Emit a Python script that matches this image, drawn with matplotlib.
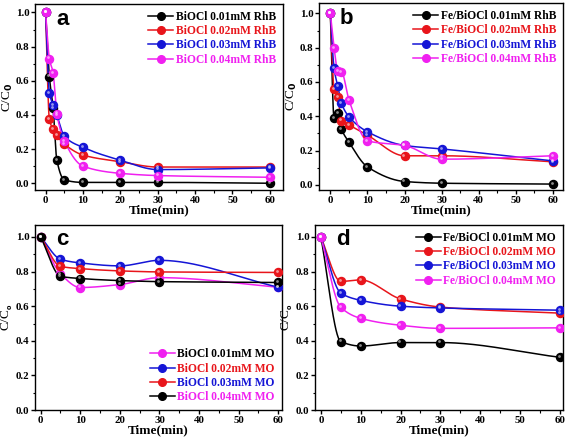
import numpy as np
import matplotlib
matplotlib.use("Agg")
import matplotlib.pyplot as plt
from matplotlib.lines import Line2D
from matplotlib.ticker import MultipleLocator, FormatStrFormatter
from matplotlib.transforms import offset_copy

plt.rcParams.update({
    "font.family": "Liberation Serif",
    "font.weight": "bold",
    "font.size": 9,
    "axes.linewidth": 1.0,
    "xtick.direction": "out",
    "ytick.direction": "out",
})

COLORS = ["black", "#e8151b", "#1515d6", "#f020f0"]

# ---- panel a : BiOCl, RhB ----
a_t = [0, 1, 2, 3, 5, 10, 20, 30, 60]
a_k = [1.0, 0.625, 0.44, 0.136, 0.02, 0.005, 0.005, 0.005, 0.0]
a_r = [1.0, 0.375, 0.317, 0.28, 0.23, 0.165, 0.126, 0.095, 0.095]
a_b = [1.0, 0.53, 0.46, 0.40, 0.276, 0.21, 0.135, 0.08, 0.09]
a_m = [1.0, 0.73, 0.647, 0.408, 0.249, 0.10, 0.058, 0.045, 0.035]
a_labels = ["BiOCl 0.01mM RhB", "BiOCl 0.02mM RhB",
            "BiOCl 0.03mM RhB", "BiOCl 0.04mM RhB"]

# ---- panel b : Fe/BiOCl, RhB ----
b_t = [0, 1, 2, 3, 5, 10, 20, 30, 60]
b_k = [1.0, 0.39, 0.418, 0.326, 0.25, 0.105, 0.02, 0.01, 0.005]
b_r = [1.0, 0.559, 0.51, 0.375, 0.35, 0.29, 0.17, 0.17, 0.135]
b_b = [1.0, 0.68, 0.575, 0.476, 0.398, 0.31, 0.23, 0.21, 0.14]
b_m = [1.0, 0.80, 0.663, 0.66, 0.496, 0.257, 0.23, 0.15, 0.17]
b_labels = ["Fe/BiOCl 0.01mM RhB", "Fe/BiOCl 0.02mM RhB",
            "Fe/BiOCl 0.03mM RhB", "Fe/BiOCl 0.04mM RhB"]

# ---- panel c : BiOCl, MO ----
c_t = [0, 5, 10, 20, 30, 60]
c_m = [1.0, 0.788, 0.708, 0.725, 0.765, 0.71]
c_b = [1.0, 0.871, 0.85, 0.833, 0.865, 0.71]
c_r = [1.0, 0.83, 0.817, 0.804, 0.798, 0.795]
c_k = [1.0, 0.773, 0.76, 0.748, 0.742, 0.737]
c_labels = ["BiOCl 0.01mM MO", "BiOCl 0.02mM MO",
            "BiOCl 0.03mM MO", "BiOCl 0.04mM MO"]

# ---- panel d : Fe/BiOCl, MO ----
d_t = [0, 5, 10, 20, 30, 60]
d_k = [1.0, 0.396, 0.37, 0.39, 0.39, 0.305]
d_r = [1.0, 0.743, 0.752, 0.642, 0.595, 0.56]
d_b = [1.0, 0.676, 0.634, 0.60, 0.59, 0.577]
d_m = [1.0, 0.594, 0.53, 0.49, 0.472, 0.475]
d_labels = ["Fe/BiOCl 0.01mM MO", "Fe/BiOCl 0.02mM MO",
            "Fe/BiOCl 0.03mM MO", "Fe/BiOCl 0.04mM MO"]


def pchip(x, y, xs):
    x = np.asarray(x, float)
    y = np.asarray(y, float)
    h = np.diff(x)
    d = np.diff(y) / h
    m = np.zeros_like(y)
    m[0], m[-1] = d[0], d[-1]
    for k in range(1, len(x) - 1):
        if d[k - 1] * d[k] > 0:
            w1 = 2 * h[k] + h[k - 1]
            w2 = h[k] + 2 * h[k - 1]
            m[k] = (w1 + w2) / (w1 / d[k - 1] + w2 / d[k])
    idx = np.clip(np.searchsorted(x, xs) - 1, 0, len(x) - 2)
    hk = h[idx]
    s = (xs - x[idx]) / hk
    h00 = 2 * s**3 - 3 * s**2 + 1
    h10 = s**3 - 2 * s**2 + s
    h01 = -2 * s**3 + 3 * s**2
    h11 = s**3 - s**2
    return (h00 * y[idx] + h10 * hk * m[idx] + h01 * y[idx + 1]
            + h11 * hk * m[idx + 1])


def series(ax, t, y, color):
    xs = np.linspace(t[0], t[-1], 600)
    ax.plot(xs, pchip(t, y, xs), color=color, lw=1.1, zorder=2)
    ax.plot(t, y, "o", ms=5.8, mfc=color, mec=color, zorder=3)
    hl = offset_copy(ax.transData, fig=ax.figure, x=-0.8, y=0.8, units="points")
    ax.plot(t, y, "o", ms=2.0, mfc="white", mec="none", alpha=0.55,
            transform=hl, zorder=4)


def setup(ax, letter, xlim, ylim, sub):
    ax.set_xlim(*xlim)
    ax.set_ylim(*ylim)
    ax.xaxis.set_major_locator(MultipleLocator(10))
    ax.xaxis.set_minor_locator(MultipleLocator(5))
    ax.yaxis.set_major_locator(MultipleLocator(0.2))
    ax.yaxis.set_minor_locator(MultipleLocator(0.1))
    ax.yaxis.set_major_formatter(FormatStrFormatter("%.1f"))
    ax.tick_params(which="major", labelsize=7.8, length=3, width=1, pad=1.2)
    ax.tick_params(which="minor", length=1.8, width=0.8)
    ax.set_xlabel("Time(min)", fontsize=9.5, fontweight="bold", labelpad=-0.5)
    if sub:
        ax.set_ylabel(r"C/C$_\mathbf{0}$", fontsize=9.5)
    else:
        ax.set_ylabel(r"C/C$_{_\mathbf{0}}$", fontsize=9.5)
    ax.yaxis.set_label_coords(-0.082, 0.5)
    ax.text(0.085, 0.975, letter, transform=ax.transAxes, ha="left", va="top",
            fontsize=16, fontweight="bold", family="Liberation Sans")


def legend(ax, labels, hcolors, tcolors, loc):
    handles = [Line2D([0], [0], color=c, lw=1.1, marker="o", ms=5.5,
                      mfc=c, mec=c) for c in hcolors]
    leg = ax.legend(handles, labels, loc=loc, frameon=False, fontsize=8.3,
                    handlelength=2.2, handletextpad=0.2, labelspacing=0.2,
                    borderaxespad=0.2)
    for txt, c in zip(leg.get_texts(), tcolors):
        txt.set_color(c)


fig = plt.figure(figsize=(5.67, 4.40), dpi=100)
ax_a = fig.add_axes([0.062, 0.568, 0.437, 0.423])
ax_b = fig.add_axes([0.563, 0.568, 0.430, 0.425])
ax_c = fig.add_axes([0.062, 0.068, 0.435, 0.421])
ax_d = fig.add_axes([0.556, 0.068, 0.437, 0.421])

for y, c in zip([a_k, a_r, a_b, a_m], COLORS):
    series(ax_a, a_t, y, c)
setup(ax_a, "a", (-2.8, 63.5), (-0.04, 1.05), True)
legend(ax_a, a_labels, COLORS, COLORS, "upper right")

for y, c in zip([b_k, b_r, b_b, b_m], COLORS):
    series(ax_b, b_t, y, c)
setup(ax_b, "b", (-3.0, 62.7), (-0.03, 1.06), True)
legend(ax_b, b_labels, COLORS, COLORS, "upper right")

c_colors = [COLORS[3], COLORS[2], COLORS[1], COLORS[0]]
for y, c in zip([c_m, c_b, c_r, c_k], c_colors):
    series(ax_c, c_t, y, c)
setup(ax_c, "c", (-1.4, 60.9), (0, 1.07), False)
legend(ax_c, c_labels, c_colors, COLORS, "lower right")

for y, c in zip([d_k, d_r, d_b, d_m], COLORS):
    series(ax_d, d_t, y, c)
setup(ax_d, "d", (-1.4, 60.8), (0, 1.07), False)
legend(ax_d, d_labels, COLORS, COLORS, "upper right")

fig.savefig("out.png", dpi=100)
